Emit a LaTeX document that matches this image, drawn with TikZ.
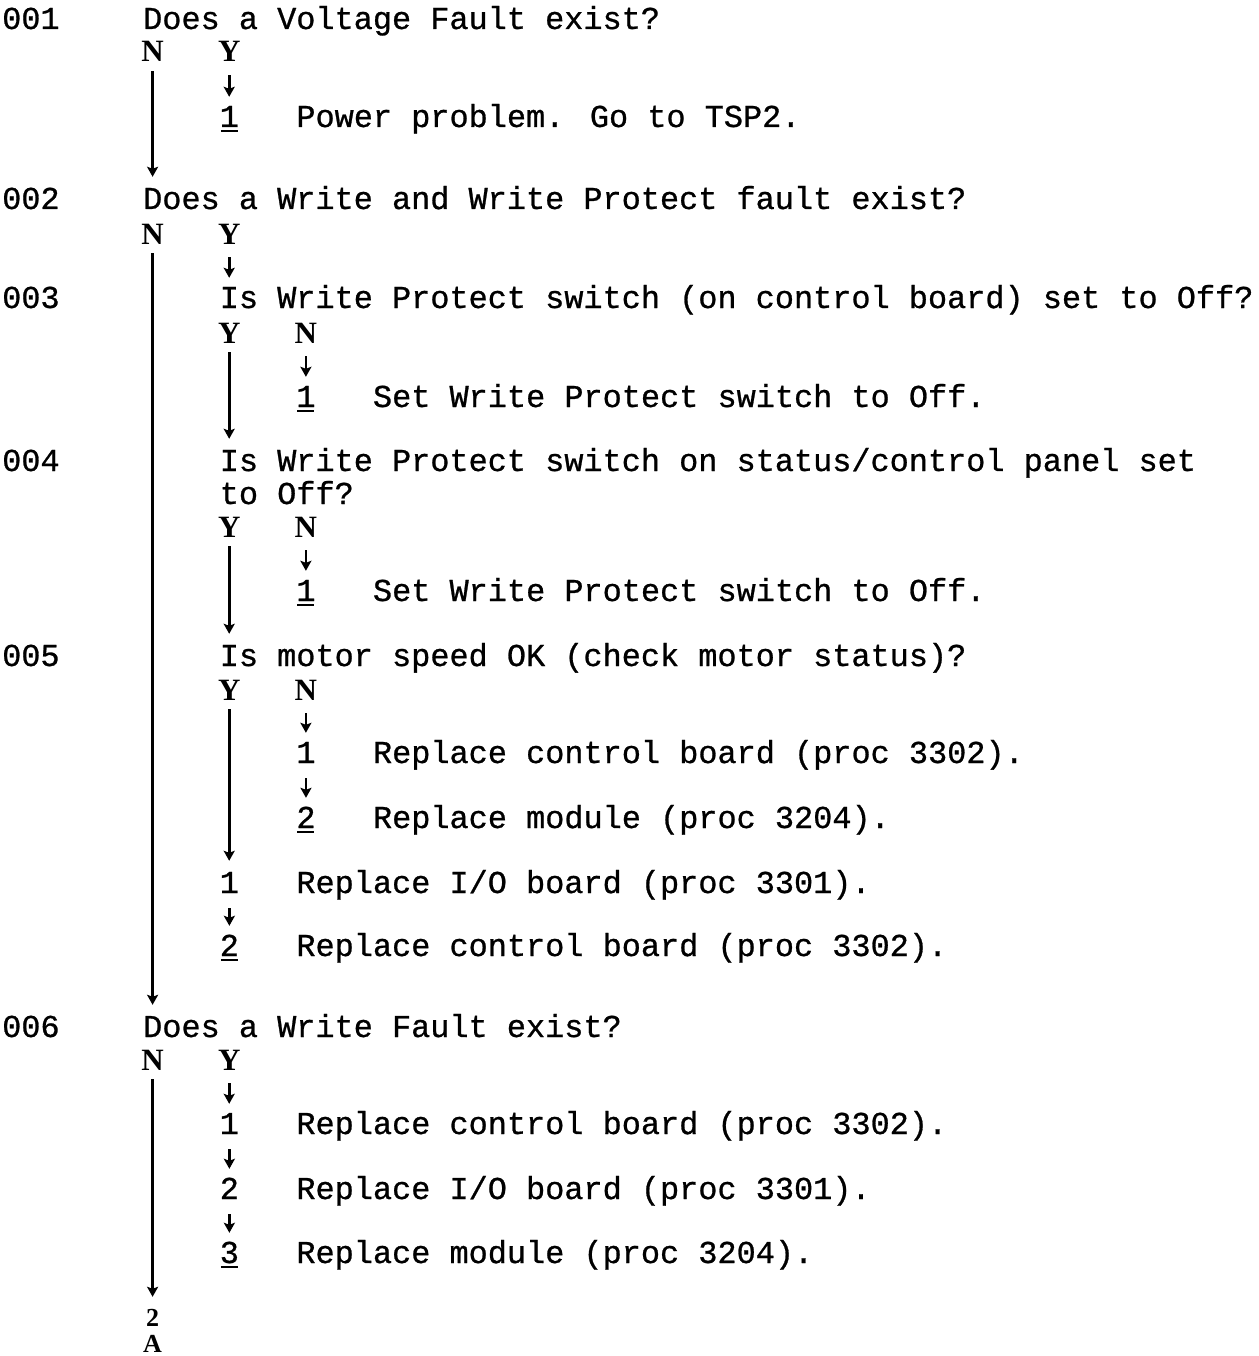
\documentclass[tikz,border=0pt]{standalone}
\usepackage{fontspec}
\setmainfont{Liberation Mono}[FakeBold=0.8]
\newfontfamily\labfont{Liberation Serif}
\usetikzlibrary{arrows.meta}
\newcommand\ulnum[1]{\makebox[0pt][l]{\hspace{1pt}\rule[-5pt]{17pt}{2pt}}#1}
\tikzset{
  txt/.style={anchor=base west, inner sep=0pt, text height=19pt, text depth=5pt,
              font=\fontsize{31.9}{36}\selectfont},
  yn/.style={anchor=base, inner sep=0pt, text height=19pt, text depth=3pt,
             font=\labfont\bfseries\fontsize{31}{34}\selectfont},
  endlab/.style={anchor=base, inner sep=0pt, text height=16pt, text depth=0pt,
             font=\labfont\bfseries\fontsize{26}{28}\selectfont},
  flow/.style={line width=2.6pt, -{Stealth[length=10pt,width=11pt,inset=2pt]}},
  sflow/.style={flow, shorten <=10pt, shorten >=11pt},
  lflow/.style={flow, shorten <=6pt, shorten >=13pt}
}
\begin{document}
\begin{tikzpicture}[x=1pt,y=-1pt]
\useasboundingbox (0,0) rectangle (1258,1356);
% 001
\node[txt] (s1) at (2,29) {001};
\node[txt] (q1) at (143,29) {Does a Voltage Fault exist?};
\node[yn] (n1) at (152.6,62) {N};
\node[yn] (y1) at (229.2,62) {Y};
\node[txt] (r1) at (219.6,127) {\ulnum{1}};
\node[txt] (t1) at (296.2,127) {Power problem. Go to TSP2.};
\draw[sflow] (y1.south) -- (y1.south |- r1.north);
% 002
\node[txt] (s2) at (2,209) {002};
\node[txt] (q2) at (143,209) {Does a Write and Write Protect fault exist?};
\draw[lflow] (n1.south) -- (n1.south |- q2.north);
\node[yn] (n2) at (152.6,244) {N};
\node[yn] (y2) at (229.2,244) {Y};
% 003
\node[txt] (s3) at (2,308) {003};
\node[txt] (q3) at (219.6,308) {Is Write Protect switch (on control board) set to Off?};
\draw[sflow] (y2.south) -- (y2.south |- q3.north);
\node[yn] (y3) at (229.2,343) {Y};
\node[yn] (n3) at (305.9,343) {N};
\node[txt] (r3) at (296.2,407) {\ulnum{1}};
\node[txt] (t3) at (372.8,407) {Set Write Protect switch to Off.};
\draw[sflow] (n3.south) -- (n3.south |- r3.north);
% 004
\node[txt] (s4) at (2,471) {004};
\node[txt] (q4) at (219.6,471) {Is Write Protect switch on status/control panel set};
\node[txt] (q4b) at (219.6,504) {to Off?};
\draw[lflow] (y3.south) -- (y3.south |- q4.north);
\node[yn] (y4) at (229.2,537) {Y};
\node[yn] (n4) at (305.9,537) {N};
\node[txt] (r4) at (296.2,601) {\ulnum{1}};
\node[txt] (t4) at (372.8,601) {Set Write Protect switch to Off.};
\draw[sflow] (n4.south) -- (n4.south |- r4.north);
% 005
\node[txt] (s5) at (2,666) {005};
\node[txt] (q5) at (219.6,666) {Is motor speed OK (check motor status)?};
\draw[lflow] (y4.south) -- (y4.south |- q5.north);
\node[yn] (y5) at (229.2,700) {Y};
\node[yn] (n5) at (305.9,700) {N};
\node[txt] (r5a) at (296.2,763) {1};
\node[txt] (t5a) at (372.8,763) {Replace control board (proc 3302).};
\draw[sflow] (n5.south) -- (n5.south |- r5a.north);
\node[txt] (r5b) at (296.2,828) {\ulnum{2}};
\node[txt] (t5b) at (372.8,828) {Replace module (proc 3204).};
\draw[sflow] (r5a.south) -- (r5b.north);
\node[txt] (r5c) at (219.6,893) {1};
\node[txt] (t5c) at (296.2,893) {Replace I/O board (proc 3301).};
\draw[lflow] (y5.south) -- (y5.south |- r5c.north);
\node[txt] (r5d) at (219.6,956) {\ulnum{2}};
\node[txt] (t5d) at (296.2,956) {Replace control board (proc 3302).};
\draw[sflow] (r5c.south) -- (r5d.north);
% 006
\node[txt] (s6) at (2,1037) {006};
\node[txt] (q6) at (143,1037) {Does a Write Fault exist?};
\draw[lflow] (n2.south) -- (n2.south |- q6.north);
\node[yn] (n6) at (152.6,1070) {N};
\node[yn] (y6) at (229.2,1070) {Y};
\node[txt] (r6a) at (219.6,1134) {1};
\node[txt] (t6a) at (296.2,1134) {Replace control board (proc 3302).};
\draw[sflow] (y6.south) -- (y6.south |- r6a.north);
\node[txt] (r6b) at (219.6,1199) {2};
\node[txt] (t6b) at (296.2,1199) {Replace I/O board (proc 3301).};
\draw[sflow] (r6a.south) -- (r6b.north);
\node[txt] (r6c) at (219.6,1263) {\ulnum{3}};
\node[txt] (t6c) at (296.2,1263) {Replace module (proc 3204).};
\draw[sflow] (r6b.south) -- (r6c.north);
\node[endlab] (e2) at (152.6,1326) {2};
\node[endlab] (eA) at (152.6,1352) {A};
\draw[lflow] (n6.south) -- (n6.south |- e2.north);
\end{tikzpicture}
\end{document}
